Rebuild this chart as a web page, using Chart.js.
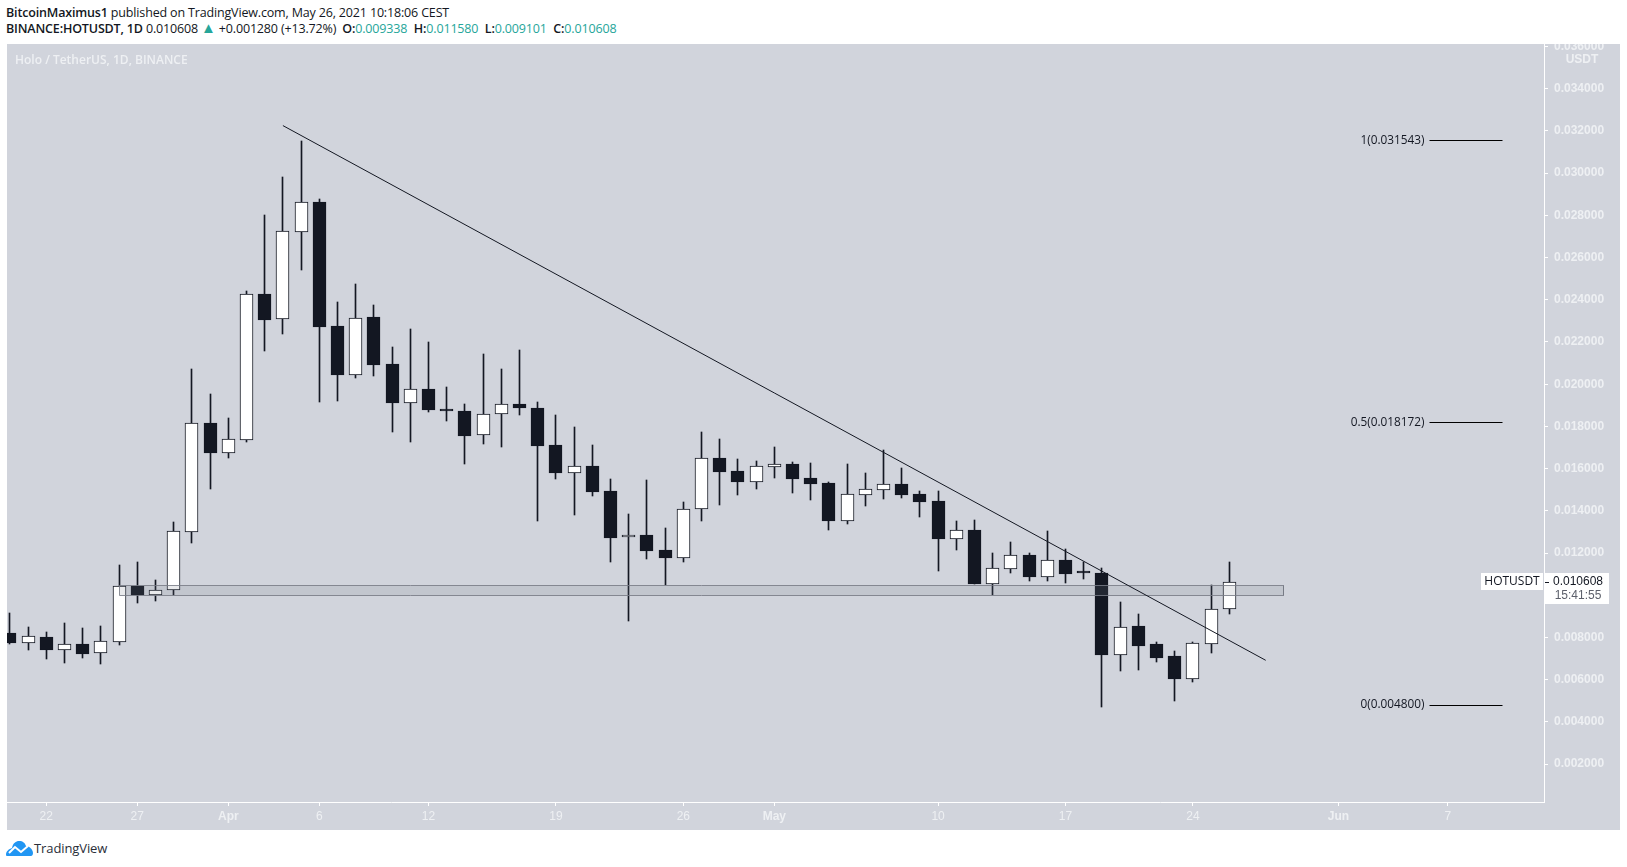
<!DOCTYPE html>
<html>
<head>
<meta charset="utf-8">
<title>HOTUSDT</title>
<script src="https://cdn.jsdelivr.net/npm/chart.js@4"></script>
<style>
  html, body { margin: 0; padding: 0; background: #fff; width: 1627px; height: 867px; overflow: hidden; }
  body { font-family: "Open Sans", sans-serif; color: #131722; position: relative; }
  #panel { position: absolute; left: 7px; top: 44px; width: 1613px; height: 786px; background: #d1d4dc; }
  .line { position: absolute; left: 6px; font-size: 12.5px; line-height: 16px; white-space: nowrap; letter-spacing: -0.16px; }
  .up { color: #26a69a; }
  .val { margin-right: 6.5px; }
  .tri { font-size: 15px; line-height: 12px; }
  .first { margin-left: 3px; }
  b { font-weight: 600; }
  #logo { position: absolute; left: 6px; top: 840px; }
  #brand { position: absolute; left: 34px; top: 840px; font-size: 13px; line-height: 17px; color: #2a2e39; letter-spacing: -0.1px; }
</style>
</head>
<body>
<div class="line" style="top:5px"><b>BitcoinMaximus1</b> published on TradingView.com, May 26, 2021 10:18:06 CEST</div>
<div class="line" style="top:21px"><b>BINANCE:HOTUSDT, 1D</b> 0.010608 <span class="up tri">▲</span> +0.001280 (+13.72%) <b class="first">O:</b><span class="up val">0.009338</span><b>H:</b><span class="up val">0.011580</span><b>L:</b><span class="up val">0.009101</span><b>C:</b><span class="up">0.010608</span></div>
<div id="panel"><canvas id="myChart" width="1613" height="786"></canvas></div>
<svg id="logo" width="27" height="17" viewBox="0 0 27 17">
  <path d="M0 15 C0 11 3 9 6 8 C7 3 10 1 13 1 C17 1 19 3 20 6 C24 6 27 10 27 13 C27 15 26 16 25 16 L2 16 C1 16 0 16 0 15 Z" fill="#2196f3"/>
  <path d="M3 13 L9 7 L15 12 L22 6" fill="none" stroke="#fff" stroke-width="2"/>
</svg>
<div id="brand">TradingView</div>

<script>
// one candle per day, Mar 20 to May 26
var opens = [
  0.00820, 0.00775, 0.00801, 0.00742, 0.00768, 0.00728, 0.00780, 0.01044, 0.01003, 0.01024,
  0.01301, 0.01815, 0.01672, 0.01736, 0.02426, 0.02310, 0.02722, 0.02862, 0.02276, 0.02045,
  0.02317, 0.02096, 0.01912, 0.01977, 0.01883, 0.01873, 0.01758, 0.01860, 0.01905, 0.01886,
  0.01712, 0.01578, 0.01612, 0.01494, 0.01275, 0.01286, 0.01215, 0.01178, 0.01407, 0.01649,
  0.01589, 0.01538, 0.01609, 0.01621, 0.01554, 0.01532, 0.01353, 0.01477, 0.01500, 0.01527,
  0.01480, 0.01447, 0.01268, 0.01309, 0.01055, 0.01126, 0.01189, 0.01088, 0.01166, 0.01106,
  0.01104, 0.00719, 0.00853, 0.00768, 0.00711, 0.00605, 0.00771, 0.009338
];
var closes = [
  0.00775, 0.00806, 0.00741, 0.00768, 0.00722, 0.00782, 0.01043, 0.01001, 0.01024, 0.01303,
  0.01815, 0.01672, 0.01740, 0.02426, 0.02304, 0.02724, 0.02862, 0.02272, 0.02044, 0.02312,
  0.02091, 0.01912, 0.01976, 0.01878, 0.01873, 0.01756, 0.01857, 0.01905, 0.01889, 0.01707,
  0.01581, 0.01611, 0.01491, 0.01273, 0.01284, 0.01211, 0.01178, 0.01407, 0.01649, 0.01585,
  0.01538, 0.01611, 0.01621, 0.01551, 0.01529, 0.01353, 0.01478, 0.01502, 0.01526, 0.01475,
  0.01443, 0.01268, 0.01308, 0.01054, 0.01128, 0.01189, 0.01088, 0.01166, 0.01101, 0.01104,
  0.00719, 0.00851, 0.00761, 0.00704, 0.00605, 0.00773, 0.00934, 0.010608
];
var highs = [
  0.00915, 0.00850, 0.00825, 0.00867, 0.00844, 0.00853, 0.01144, 0.01158, 0.01072, 0.01347,
  0.02070, 0.01954, 0.01840, 0.02441, 0.02801, 0.02981, 0.03154, 0.02876, 0.02389, 0.02475,
  0.02375, 0.02176, 0.02261, 0.02200, 0.01987, 0.01906, 0.02143, 0.02072, 0.02162, 0.01916,
  0.01854, 0.01796, 0.01712, 0.01551, 0.01385, 0.01546, 0.01319, 0.01441, 0.01772, 0.01740,
  0.01644, 0.01636, 0.01702, 0.01631, 0.01627, 0.01537, 0.01622, 0.01579, 0.01687, 0.01602,
  0.01493, 0.01493, 0.01352, 0.01357, 0.01199, 0.01251, 0.01200, 0.01305, 0.01218, 0.01159,
  0.01128, 0.00968, 0.00911, 0.00777, 0.00735, 0.00779, 0.01049, 0.01158
];
var lows = [
  0.00771, 0.00741, 0.00698, 0.00679, 0.00703, 0.00675, 0.00765, 0.00964, 0.00973, 0.01001,
  0.01248, 0.01505, 0.01652, 0.01726, 0.02159, 0.02239, 0.02542, 0.01917, 0.01920, 0.02031,
  0.02040, 0.01775, 0.01726, 0.01870, 0.01826, 0.01622, 0.01717, 0.01702, 0.01854, 0.01352,
  0.01551, 0.01380, 0.01470, 0.01159, 0.00876, 0.01173, 0.01049, 0.01159, 0.01353, 0.01429,
  0.01475, 0.01504, 0.01556, 0.01485, 0.01451, 0.01309, 0.01338, 0.01423, 0.01456, 0.01461,
  0.01372, 0.01115, 0.01215, 0.01054, 0.01001, 0.01107, 0.01068, 0.01068, 0.01058, 0.01079,
  0.00472, 0.00641, 0.00646, 0.00684, 0.00499, 0.00589, 0.00727, 0.009101
];

// days are counted from Mar 22
var firstDay = -2;
var tickDays = [0, 5, 10, 15, 21, 28, 35, 40, 49, 56, 63, 71, 77];
var tickNames = ["22", "27", "Apr", "6", "12", "19", "26", "May", "10", "17", "24", "Jun", "7"];
var monthNames = ["Apr", "May", "Jun"];
var priceTicks = [0.002, 0.004, 0.006, 0.008, 0.012, 0.014, 0.016, 0.018, 0.020,
  0.022, 0.024, 0.026, 0.028, 0.030, 0.032, 0.034, 0.036];

var trendDays = [13, 67];
var trendPrices = [0.03225, 0.00692];
var zoneDays = [4, 68];
var zonePrices = [0.01047, 0.01000];
var fibPrices = [0.031543, 0.018172, 0.0048];
var fibNames = ["1(0.031543)", "0.5(0.018172)", "0(0.004800)"];
var fibDays = [76, 80];
var lastPrice = 0.010608;

var DARK = "#131722";
var WHITE = "#ffffff";

var wickData = [], bodyData = [];
for (var i = 0; i < opens.length; i++) {
  wickData.push({ x: firstDay + i, y: [lows[i], highs[i]] });
  bodyData.push({ x: firstDay + i, y: [opens[i], closes[i]] });
}

var datasets = [
  { type: "bar", data: wickData, order: 3, grouped: false, barThickness: 1, backgroundColor: DARK },
  {
    type: "bar", data: bodyData, order: 2, grouped: false, barThickness: 13, minBarLength: 2,
    borderWidth: 1, borderColor: DARK, borderSkipped: false,
    backgroundColor: function (c) { return closes[c.dataIndex] >= opens[c.dataIndex] ? WHITE : DARK; }
  },
  {
    type: "line", order: 1, fill: "shape", pointRadius: 0, borderWidth: 1, tension: 0, snap: true,
    borderColor: "rgba(120,123,134,0.85)", backgroundColor: "rgba(120,123,134,0.16)",
    data: [
      { x: zoneDays[0], y: zonePrices[0] }, { x: zoneDays[1], y: zonePrices[0] },
      { x: zoneDays[1], y: zonePrices[1] }, { x: zoneDays[0], y: zonePrices[1] },
      { x: zoneDays[0], y: zonePrices[0] }
    ]
  },
  {
    type: "line", order: 0, pointRadius: 0, borderWidth: 1, borderColor: DARK, tension: 0,
    data: [{ x: trendDays[0], y: trendPrices[0] }, { x: trendDays[1], y: trendPrices[1] }]
  }
];
fibPrices.forEach(function (p) {
  datasets.push({
    type: "line", order: 0, pointRadius: 0, borderWidth: 1, borderColor: "#000", tension: 0, snap: true,
    data: [{ x: fibDays[0], y: p }, { x: fibDays[1], y: p }]
  });
});

// snap candles and flat lines to whole pixels so their edges stay crisp
var pixelSnap = {
  id: "pixelSnap",
  afterDatasetsUpdate: function (chart) {
    chart.data.datasets.forEach(function (ds, n) {
      var els = chart.getDatasetMeta(n).data;
      if (ds.type === "bar") {
        els.forEach(function (el) {
          el.x = Math.floor(el.x) + 0.5;
          el.y = Math.round(el.y);
          el.base = Math.round(el.base);
        });
      } else if (ds.snap) {
        els.forEach(function (el) {
          el.x = Math.floor(el.x) + 0.5;
          el.y = Math.floor(el.y) + 0.5;
        });
      }
    });
  }
};

// everything that is text inside the panel but not a tick
var overlay = {
  id: "overlay",
  afterDraw: function (chart) {
    var c = chart.ctx, xs = chart.scales.x, ys = chart.scales.y;
    c.save();
    c.textBaseline = "middle";

    c.font = "600 12px 'Open Sans'";
    c.fillStyle = "#eef0f3";
    c.textAlign = "left";
    c.fillText("Holo / TetherUS, 1D, BINANCE", 8, 17);

    c.font = "bold 12px 'Liberation Sans'";
    c.textAlign = "center";
    c.fillText("USDT", 1575, 16);

    c.font = "11.8px 'Open Sans'";
    c.fillStyle = DARK;
    c.textAlign = "right";
    fibPrices.forEach(function (p, k) {
      c.fillText(fibNames[k], xs.getPixelForValue(fibDays[0]) - 5, ys.getPixelForValue(p));
    });

    // last price tag
    var y = Math.round(ys.getPixelForValue(lastPrice));
    c.fillStyle = WHITE;
    c.fillRect(1474, y - 9, 62, 17);
    c.fillRect(1538, y - 9, 64, 31);
    c.fillRect(1537, y - 9, 1, 31);
    c.fillStyle = DARK;
    c.fillRect(1538, y, 4, 1);
    c.textAlign = "center";
    c.font = "12px 'Open Sans'";
    c.fillText("HOTUSDT", 1505, y);
    c.font = "12px 'Liberation Sans'";
    c.fillText("0.010608", 1571, y);
    c.fillStyle = "#5d606b";
    c.fillText("15:41:55", 1571, y + 14);
    c.restore();
  }
};

new Chart(document.getElementById("myChart"), {
  data: { datasets: datasets },
  plugins: [pixelSnap, overlay],
  options: {
    responsive: false,
    animation: false,
    layout: { padding: 0 },
    plugins: { legend: { display: false }, tooltip: { enabled: false } },
    scales: {
      x: {
        type: "linear",
        offset: false,
        min: -2.159,
        max: 82.29,
        border: { color: "#fff", width: 1 },
        grid: { offset: false, drawOnChartArea: false, color: "#fff", tickLength: 4 },
        afterBuildTicks: function (axis) {
          axis.ticks = tickDays.map(function (d) { return { value: d }; });
        },
        afterFit: function (axis) { axis.height = 28; axis.paddingLeft = 0; axis.paddingRight = 0; },
        ticks: {
          autoSkip: false,
          maxRotation: 0,
          color: "#eef0f3",
          padding: 3,
          font: function (c) {
            var bold = monthNames.indexOf(tickNames[c.index]) >= 0;
            return { family: "'Liberation Sans'", size: 12, weight: bold ? "bold" : "normal" };
          },
          callback: function (v, i) { return tickNames[i]; }
        }
      },
      y: {
        position: "right",
        min: 0.000208,
        max: 0.036115,
        border: { color: "#fff", width: 1 },
        grid: { drawOnChartArea: false, color: "#fff", tickLength: 4 },
        afterBuildTicks: function (axis) {
          axis.ticks = priceTicks.map(function (p) { return { value: p }; });
        },
        afterFit: function (axis) { axis.width = 76; axis.paddingTop = 0; axis.paddingBottom = 0; },
        ticks: {
          autoSkip: false,
          color: "#eef0f3",
          padding: 6,
          font: { family: "'Liberation Sans'", size: 12, weight: "bold" },
          callback: function (v) { return v.toFixed(6); }
        }
      }
    }
  }
});
</script>
</body>
</html>
